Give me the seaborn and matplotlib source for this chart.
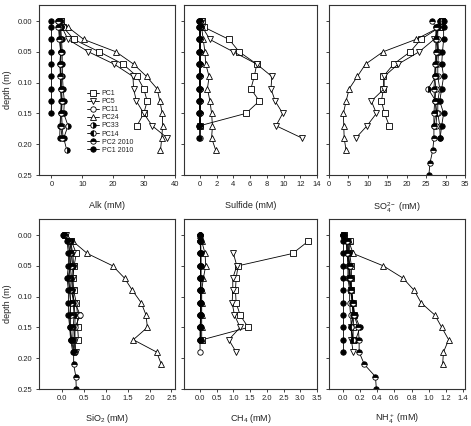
"""
Porewater depth profiles, six panels (Alk, sulfide, sulfate, silica, methane, ammonium).
"""

import numpy as np
import pandas as pd
import matplotlib
matplotlib.use("Agg")
import matplotlib.pyplot as plt
import seaborn as sns

nan = np.nan

# depth of each sample (m)
DEPTH = [0.00, 0.01, 0.03, 0.05, 0.07, 0.09, 0.11, 0.13, 0.15, 0.17, 0.19, 0.21, 0.23, 0.25]
CORES = ["PC1", "PC5", "PC11", "PC24", "PC33", "PC14", "PC2 2010", "PC1 2010"]

# values per core, aligned with DEPTH (shorter lists stop earlier)
ALK = {
    "PC1": [3.0, 3.8, 7.3, 15.5, 23.2, 27.7, 29.9, 31.0, 29.9, 27.7],
    "PC5": [3.0, 3.4, 5.4, 12.0, 20.3, 26.4, 26.6, 27.5, 29.9, 32.6, 37.5],
    "PC11": [2.5, 3.0, 3.0, 3.2, 3.0, 3.2, 3.3, 3.5, 3.3, 3.5, 3.8],
    "PC24": [3.2, 5.4, 10.5, 20.9, 26.6, 30.8, 34.2, 35.1, 35.9, 36.0, 35.7, 35.3],
    "PC33": [2.8, 3.0, 3.3, 3.5, 3.5, 3.6, 3.8, 4.2, 4.0, 5.4, 4.0, 5.0],
    "PC14": [2.2, 2.5, 2.8, 3.0, 2.8, 3.0, 3.0, 3.2, 3.0, 2.8, 2.7],
    "PC2 2010": [2.0, 2.3, 2.6, 3.0, 2.8, 2.9, 3.0, 3.3, 3.2, 3.0, 3.5],
    "PC1 2010": [0.0, 0.0, 0.0, 0.0, 0.0, 0.0, 0.0, 0.0, 0.0],
}
SULFIDE = {
    "PC1": [0.3, 0.5, 3.5, 4.7, 6.8, 6.5, 6.1, 7.1, 5.5, 0.0],
    "PC5": [0.3, 0.3, 1.2, 4.0, 6.8, 8.6, 8.5, 9.0, 9.9, 9.1, 12.2],
    "PC11": [0.0, 0.0, 0.0, 0.0, 0.0, 0.0, 0.0, 0.0, 0.0, 0.0, 0.0],
    "PC24": [0.1, 0.2, 0.4, 0.6, 0.7, 1.1, 0.9, 1.2, 1.4, 1.5, 1.4, 1.9],
    "PC33": [0.0, 0.1, 0.0, 0.0, 0.0, 0.0, 0.0, 0.0, 0.0, 0.0],
    "PC14": [-0.1, -0.1, -0.1, -0.1, -0.1, -0.1, -0.1, -0.1, -0.1, -0.1],
    "PC2 2010": [0.0, 0.0, 0.0, 0.0, 0.0, 0.0, 0.0, 0.0, 0.0, 0.0],
    "PC1 2010": [-0.1, -0.1, -0.1, -0.1, -0.1, -0.1, -0.1, -0.1, -0.1, -0.1, -0.1],
}
SO4 = {
    "PC1": [29.0, 28.5, 23.6, 20.9, 16.6, 14.0, 14.0, 13.5, 14.3, 15.5],
    "PC5": [29.0, 28.5, 27.0, 23.2, 17.8, 14.2, 14.2, 10.9, 12.2, 9.8, 6.9],
    "PC11": [28.5, 28.0, 28.0, 28.2, 28.0, 28.0, 28.5, 28.0, 28.0, 28.5, 28.6],
    "PC24": [29.0, 28.5, 22.3, 13.9, 9.4, 7.3, 5.2, 4.4, 3.7, 3.8, 3.9, 4.4],
    "PC33": [29.0, 28.0, 27.5, 28.0, 27.5, 27.5, 25.5, 27.5, 27.5, 27.0],
    "PC14": [28.5, 27.5, 28.0, 27.8, 27.5, 27.2, 27.5, 27.3, 27.8, 27.5],
    "PC2 2010": [26.4, 27.5, 27.5, 27.5, 27.3, 27.2, 27.0, 27.2, 27.0, 27.0, 27.0, 26.7, 26.0, 25.7],
    "PC1 2010": [29.5, 29.5, 29.5, 29.2, 29.0, 29.5, 29.0, 28.5, 29.5, 29.0, 28.6],
}
SIO2 = {
    "PC1": [0.08, 0.22, 0.33, 0.28, 0.25, 0.27, 0.33, 0.36, 0.36, 0.38],
    "PC5": [0.10, 0.20, 0.25, 0.27, 0.25, 0.25, 0.28, 0.30, 0.30, 0.30, 0.32],
    "PC11": [0.05, 0.18, 0.22, 0.20, 0.18, 0.20, 0.30, 0.42, 0.30, 0.28, 0.30],
    "PC24": [0.10, 0.25, 0.58, 1.16, 1.43, 1.61, 1.81, 1.92, 1.95, 1.63, 2.16, 2.27],
    "PC33": [0.06, 0.20, 0.22, 0.25, 0.22, 0.24, 0.26, 0.28, 0.26, 0.25, 0.28],
    "PC14": [0.04, 0.15, 0.18, 0.18, 0.15, 0.18, 0.20, 0.18, 0.18, 0.22],
    "PC2 2010": [0.05, 0.15, 0.18, 0.20, 0.15, 0.18, 0.20, 0.20, 0.20, 0.22, 0.27, 0.27, 0.32, 0.33],
    "PC1 2010": [0.02, 0.12, 0.15, 0.15, 0.12, 0.15, 0.15, 0.15, 0.18, 0.20, 0.25],
}
CH4 = {
    "PC1": [nan, 3.24, 2.77, 1.14, 1.08, 1.06, 1.08, 1.20, 1.44, 0.07],
    "PC5": [nan, nan, 1.00, 1.10, 0.98, 0.98, 0.96, 1.03, 1.20, 0.86, 1.08],
    "PC11": [0.0, 0.0, 0.02, 0.02, 0.02, 0.02, 0.02, 0.02, 0.0, 0.0, 0.0],
    "PC24": [0.0, 0.05, 0.15, 0.17, 0.10, 0.05, 0.05, 0.05, 0.05, 0.05],
    "PC33": [0.0, 0.02, 0.03, 0.03, 0.03, 0.03, 0.03, 0.03, 0.02, 0.02],
    "PC14": [0.0, 0.0, 0.0, 0.0, 0.0, 0.0, 0.0, 0.0, 0.0, 0.0],
    "PC2 2010": [0.0, 0.0, 0.0, 0.0, 0.0, 0.0, 0.0, 0.0, 0.0],
    "PC1 2010": [0.0, 0.0, 0.0, 0.0, 0.0, 0.0, 0.0, 0.0, 0.0, 0.0],
}
NH4 = {
    "PC1": [0.02, 0.08, 0.08, 0.10, 0.10, 0.10, 0.12, 0.13, 0.12, 0.12],
    "PC5": [0.02, 0.06, 0.06, 0.08, 0.08, 0.10, 0.11, 0.12, 0.10, 0.10, 0.12],
    "PC11": [0.0, 0.05, 0.05, 0.06, 0.06, 0.08, 0.08, 0.09, 0.10, 0.12],
    "PC24": [0.02, 0.07, 0.12, 0.47, 0.70, 0.83, 0.91, 1.07, 1.15, 1.23, 1.17, 1.16],
    "PC33": [0.01, 0.06, 0.07, 0.08, 0.09, 0.10, 0.12, 0.14, 0.20, 0.15],
    "PC14": [0.0, 0.04, 0.05, 0.07, 0.07, 0.09, 0.11, 0.12, 0.09, 0.12],
    "PC2 2010": [0.0, 0.05, 0.05, 0.08, 0.08, 0.10, 0.12, 0.13, 0.18, 0.19, 0.19, 0.25, 0.38, 0.39],
    "PC1 2010": [0.0, 0.0, 0.0, 0.0, 0.0, 0.0, 0.0, 0.0, 0.0, 0.0, 0.0],
}

PANELS = [
    (ALK, "Alk (mM)", (-4, 40), np.arange(0, 41, 10), "{:.0f}"),
    (SULFIDE, "Sulfide (mM)", (-1.9, 14), np.arange(0, 15, 2), "{:.0f}"),
    (SO4, r"SO$_4^{2-}$ (mM)", (0, 35), np.arange(0, 36, 5), "{:.0f}"),
    (SIO2, r"SiO$_2$ (mM)", (-0.52, 2.58), np.arange(0, 2.6, 0.5), "{:.1f}"),
    (CH4, r"CH$_4$ (mM)", (-0.48, 3.5), np.arange(0, 3.6, 0.5), "{:.1f}"),
    (NH4, r"NH$_4^+$ (mM)", (-0.16, 1.42), np.arange(0, 1.41, 0.2), "{:.1f}"),
]

MARKERS = {
    "PC1": dict(marker="s", markerfacecolor="white"),
    "PC5": dict(marker="v", markerfacecolor="white"),
    "PC11": dict(marker="o", markerfacecolor="white"),
    "PC24": dict(marker="^", markerfacecolor="white"),
    "PC33": dict(marker="o", fillstyle="right", markerfacecolor="black", markerfacecoloralt="white"),
    "PC14": dict(marker="o", fillstyle="left", markerfacecolor="black", markerfacecoloralt="white"),
    "PC2 2010": dict(marker="o", fillstyle="top", markerfacecolor="black", markerfacecoloralt="white"),
    "PC1 2010": dict(marker="o", markerfacecolor="black"),
}

sns.set_style("ticks")
plt.rcParams["font.family"] = ["Liberation Sans", "DejaVu Sans"]
plt.rcParams["mathtext.fontset"] = "custom"
plt.rcParams["mathtext.rm"] = "Liberation Sans"
plt.rcParams["mathtext.it"] = "Liberation Sans"
TEXT = "#222222"

fig = plt.figure(figsize=(4.71, 4.26), dpi=100)
W, H = 471, 426
cols = [(39, 175), (184, 317), (329, 465)]
rows = [(5, 175), (219, 389)]

for i, (data, xlabel, xlim, xticks, fmt) in enumerate(PANELS):
    r, c = divmod(i, 3)
    x0, x1 = cols[c]
    y0, y1 = rows[r]
    ax = fig.add_axes([x0 / W, 1 - y1 / H, (x1 - x0) / W, (y1 - y0) / H])

    for core in CORES:
        vals = data[core]
        df = pd.DataFrame({"depth": DEPTH[:len(vals)], "value": vals}).dropna()
        sns.lineplot(
            data=df, x="value", y="depth", ax=ax, orient="y", estimator=None,
            color="black", linewidth=0.6, markersize=3.9,
            markeredgecolor="black", markeredgewidth=0.6,
            label=core, legend=False, **MARKERS[core],
        )

    ax.set_xlim(*xlim)
    ax.set_ylim(0.25, -0.026)
    ax.set_xticks(xticks)
    ax.set_xticklabels([fmt.format(v) for v in xticks])
    ax.set_yticks(np.arange(0, 0.26, 0.05))
    if c == 0:
        ax.set_yticklabels([f"{v:.2f}" for v in np.arange(0, 0.26, 0.05)])
        ax.set_ylabel("depth (m)", fontsize=6.5, color=TEXT, labelpad=4)
    else:
        ax.set_yticklabels([])
        ax.set_ylabel("")
    ax.set_xlabel(xlabel, fontsize=6.5, color=TEXT, labelpad=9 if r == 0 else 7)
    ax.tick_params(direction="out", length=2.5, width=0.6, labelsize=5.5,
                   colors=TEXT, pad=2)
    for sp in ax.spines.values():
        sp.set_linewidth(0.8)
        sp.set_color("#333333")

    if i == 0:
        ax.legend(loc="upper left", bbox_to_anchor=(0.353, 0.50), frameon=False,
                  fontsize=5, handlelength=1.7, handletextpad=0.4,
                  labelspacing=0.16, borderpad=0, borderaxespad=0,
                  labelcolor=TEXT)

fig.savefig("out.png", dpi=100)
